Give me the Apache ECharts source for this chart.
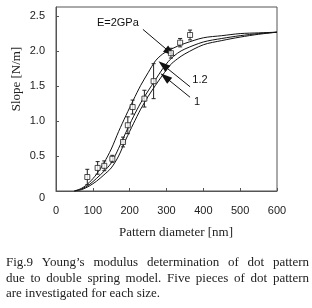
<!DOCTYPE html>
<html><head><meta charset="utf-8">
<script src="https://cdn.jsdelivr.net/npm/echarts@6/dist/echarts.min.js"></script>
<style>html,body{margin:0;padding:0;background:#fff}#c{width:312px;height:308px}</style>
</head><body><div id="c"></div>
<script>
// ---- data ----
const curveX   = [50,70,90,110,130,150,170,190,210,230,250,270,290,310,330,350,400,450,500,550,600];
const curveE2  = [0,0.04,0.12,0.24,0.40,0.60,0.85,1.08,1.30,1.51,1.69,1.86,1.96,2.02,2.07,2.11,2.19,2.22,2.25,2.26,2.27];
const curveE12 = [0,0.03,0.09,0.18,0.28,0.40,0.61,0.84,1.06,1.26,1.43,1.59,1.75,1.88,1.97,2.03,2.13,2.18,2.22,2.25,2.27];
const curveE1  = [0,0.02,0.07,0.14,0.23,0.33,0.50,0.74,0.96,1.17,1.35,1.51,1.66,1.80,1.89,1.96,2.09,2.15,2.20,2.24,2.27];
const ptX   = [85,113,131,153,182,195,208,240,265,312,337,364];
const ptY   = [0.20,0.33,0.36,0.46,0.70,0.94,1.20,1.32,1.57,1.97,2.12,2.23];
const ptErr = [0.11,0.09,0.07,0.05,0.07,0.12,0.10,0.12,0.25,0.07,0.06,0.07];
const xTickLabels = ['0','100','200','300','400','500','600'];
const yTickLabels = ['0','0.5','1.0','1.5','2.0','2.5'];
const curveLabels = ['E=2GPa','1.2','1'];
const caption = ['Fig.9 Young\u2019s modulus determination of dot pattern',
                 'due to double spring model. Five pieces of dot pattern',
                 'are investigated for each size.'];

const chart = echarts.init(document.getElementById('c'), null, {renderer:'canvas'});
const zip = (xs, ys) => xs.map((x,i)=>[x, ys[i]]);
const lineSeries = (ys) => ({type:'line', data: zip(curveX, ys), smooth:0.3, symbol:'none',
  lineStyle:{color:'#111', width:1}, z:3, silent:true});

// justified caption via per-word text elements
const cv = document.createElement('canvas').getContext('2d');
const capFont = '13px "Liberation Serif"';
cv.font = capFont;
const capGraphics = [];
const capLeft = 6, capRight = 309, capY = [263, 279, 294];
caption.forEach((line, li) => {
  const words = line.split(' ');
  const justify = li < caption.length - 1;
  const widths = words.map(w => cv.measureText(w).width);
  const total = widths.reduce((a,b)=>a+b,0);
  const gap = justify ? (capRight - capLeft - total) / (words.length - 1) : cv.measureText(' ').width;
  let x = capLeft;
  words.forEach((w, wi) => {
    capGraphics.push({type:'text', x: x, y: capY[li], style:{text:w, font:capFont, fill:'#222',
      textVerticalAlign:'middle', textAlign:'left'}});
    x += widths[wi] + gap;
  });
});

const arrowLine = (from, to) => [{coord: from}, {coord: to}];

chart.setOption({
  animation:false,
  grid:{left:56, right:35, top:7, bottom:117, show:true, borderColor:'#555', borderWidth:1},
  xAxis:{type:'value', min:0, max:600, interval:100,
    axisLine:{show:true, lineStyle:{color:'#555'}},
    axisTick:{show:true, inside:true, length:3, lineStyle:{color:'#555'}},
    axisLabel:{color:'#222', fontSize:11, fontFamily:'"Liberation Sans"', margin:14,
      formatter:(v)=>xTickLabels[Math.round(v/100)] || ''},
    splitLine:{show:false}},
  yAxis:{type:'value', min:0, max:2.63, interval:0.5,
    axisLine:{show:true, lineStyle:{color:'#555'}},
    axisTick:{show:true, inside:true, length:3, lineStyle:{color:'#555'}},
    axisLabel:{color:'#222', fontSize:11, fontFamily:'"Liberation Sans"', margin:11, showMaxLabel:false,
      formatter:(v)=>{ const i = Math.round(v/0.5); if (Math.abs(v - i*0.5) > 1e-6) return '';
        return i === 0 ? '{z|0}' : yTickLabels[i]; },
      rich:{z:{fontSize:11, fontFamily:'"Liberation Sans"', color:'#222', padding:[14,0,0,0]}}},
    splitLine:{show:false}},
  graphic:[
    {type:'text', x:17, y:79, rotation:Math.PI/2, style:{text:'Slope [N/m]', font:'13px "Liberation Serif"',
      fill:'#222', textAlign:'center', textVerticalAlign:'middle'}},
    {type:'text', x:176, y:233, style:{text:'Pattern diameter [nm]', font:'13px "Liberation Serif"',
      fill:'#222', textAlign:'center', textVerticalAlign:'middle'}},
    ...capGraphics
  ],
  series:[
    lineSeries(curveE2),
    lineSeries(curveE12),
    lineSeries(curveE1),
    {type:'custom', z:4, silent:true,
      data: ptX.map((x,i)=>[x, ptY[i]-ptErr[i], ptY[i]+ptErr[i]]),
      renderItem:(params, api)=>{
        const x = api.value(0);
        const lo = api.coord([x, api.value(1)]);
        const hi = api.coord([x, api.value(2)]);
        const st = {stroke:'#222', lineWidth:1};
        return {type:'group', children:[
          {type:'line', shape:{x1:lo[0], y1:lo[1], x2:hi[0], y2:hi[1]}, style:st},
          {type:'line', shape:{x1:lo[0]-2, y1:lo[1], x2:lo[0]+2, y2:lo[1]}, style:st},
          {type:'line', shape:{x1:hi[0]-2, y1:hi[1], x2:hi[0]+2, y2:hi[1]}, style:st}
        ]};
      }},
    {type:'scatter', z:5, silent:true, data: zip(ptX, ptY), symbol:'rect', symbolSize:5,
      itemStyle:{color:'#fff', borderColor:'#222', borderWidth:1}},
    {type:'line', data:[], silent:true,
      markLine:{silent:true, symbol:['none','triangle'], symbolSize:[8,12],
        lineStyle:{color:'#111', width:1, type:'solid'}, label:{show:false},
        data:[ arrowLine([236,2.31],[310,1.98]),
               arrowLine([364,1.49],[291,1.80]),
               arrowLine([364,1.34],[296,1.63]) ]},
      markPoint:{silent:true, symbol:'circle', symbolSize:0,
        label:{show:true, color:'#111', fontSize:11, fontFamily:'"Liberation Sans"', position:'inside',
          formatter:(p)=>p.name},
        data:[ {name:curveLabels[0], coord:[168,2.40]},
               {name:curveLabels[1], coord:[391,1.59]},
               {name:curveLabels[2], coord:[383,1.27]} ]}}
  ]
});
</script></body></html>
